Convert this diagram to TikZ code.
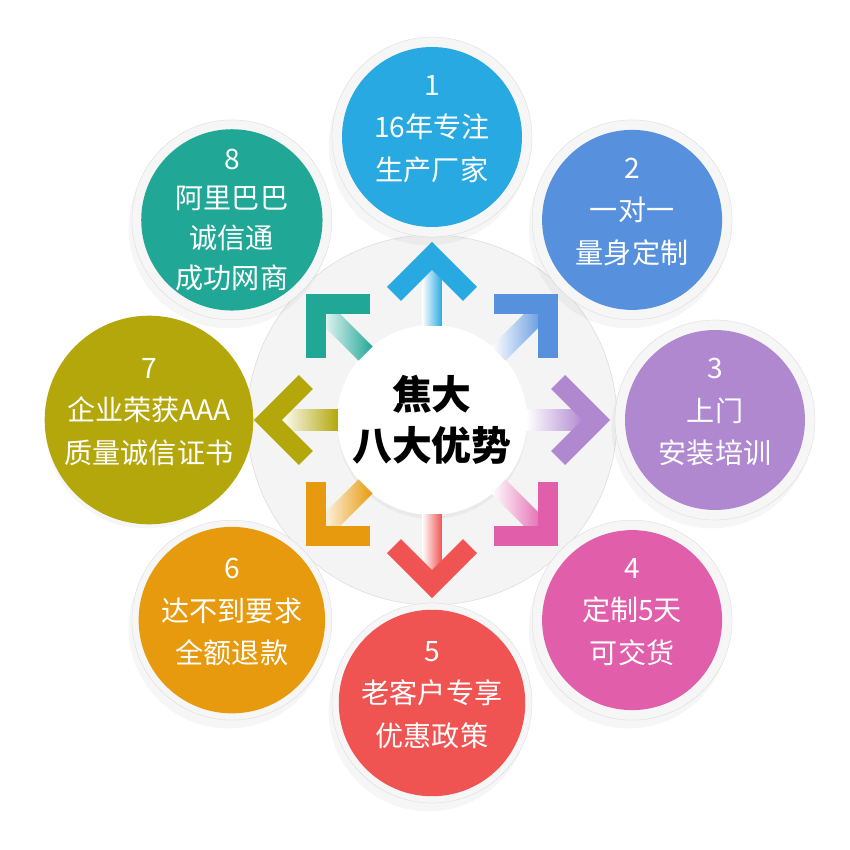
\documentclass[tikz,border=0pt]{standalone}
\usepackage{fontspec}
\newfontfamily\cjk{Noto Sans CJK SC}
\usetikzlibrary{positioning,shadows}
\definecolor{adv1}{HTML}{29A9E1}
\definecolor{adv2}{HTML}{5791DD}
\definecolor{adv3}{HTML}{B088D0}
\definecolor{adv4}{HTML}{E15EAA}
\definecolor{adv5}{HTML}{EF5352}
\definecolor{adv6}{HTML}{E79A0D}
\definecolor{adv7}{HTML}{B3A70B}
\definecolor{adv8}{HTML}{21A796}
\tikzstyle{hubdisc} = [circle, minimum size=111mm, fill=gray!9, draw=gray!30, thin]
\tikzstyle{core} = [circle, minimum size=57mm, inner sep=0pt, fill=white, align=center, drop shadow={opacity=0.08, shadow xshift=0mm, shadow yshift=-1.2mm}, font=\cjk\bfseries\fontsize{34}{43}\selectfont]
\tikzstyle{ring} = [circle, minimum size=60mm, inner sep=0pt, fill=gray!7, draw=gray!35, very thin, drop shadow={opacity=0.07, shadow xshift=-1mm, shadow yshift=-2.5mm}]
\tikzstyle{disc} = [circle, minimum size=54mm, inner sep=0pt, align=center, text=white, font=\cjk\fontsize{24}{36}\selectfont]
\tikzstyle{lifted} = [execute at end node={\rule[-5.5mm]{0pt}{5.5mm}}]
\tikzstyle{shaft} = [rectangle, minimum width=17.4mm, minimum height=6mm, inner sep=0pt, left color=white]
\newcommand{\advarrow}[2]{%
  \node[shaft, rotate=#1, right color=#2] at (#1:123) {};
  \fill[#2, rotate=#1] (178,0) -- (133,45) -- (119,31) -- (150,0) -- (119,-31) -- (133,-45) -- cycle;
}

\begin{document}
\begin{tikzpicture}[x=0.3mm, y=0.3mm]
\useasboundingbox[fill=white] (-432,-430) rectangle (418,420);
\node[hubdisc] (hub) at (0,0) {};
\node[core] (center) at (hub) {焦大\\八大优势};
% arrows out of the centre
\advarrow{90}{adv1}
\advarrow{45}{adv2}
\advarrow{0}{adv3}
\advarrow{-45}{adv4}
\advarrow{-90}{adv5}
\advarrow{-135}{adv6}
\advarrow{180}{adv7}
\advarrow{135}{adv8}
% the eight circles
\node[ring] (r1) at (90:283) {};
\node[disc, lifted, fill=adv1] (c1) at (r1) {1\\16年专注\\生产厂家};
\node[ring] (r2) at (45:283) {};
\node[disc, lifted, fill=adv2] (c2) at (r2) {2\\一对一\\量身定制};
\node[ring] (r3) at (0:283) {};
\node[disc, lifted, fill=adv3] (c3) at (r3) {3\\上门\\安装培训};
\node[ring] (r4) at (-45:283) {};
\node[disc, lifted, fill=adv4] (c4) at (r4) {4\\定制5天\\可交货};
\node[ring] (r5) at (-90:283) {};
\node[disc, lifted, fill=adv5] (c5) at (r5) {5\\老客户专享\\优惠政策};
\node[ring] (r6) at (-135:283) {};
\node[disc, lifted, fill=adv6] (c6) at (r6) {6\\达不到要求\\全额退款};
\node[ring] (r7) at (180:283) {};
\node[disc, lifted, fill=adv7] (c7) at (r7) {7\\企业荣获AAA\\质量诚信证书};
\node[ring] (r8) at (135:283) {};
\node[disc, fill=adv8, font=\cjk\fontsize{24}{34}\selectfont] (c8) at (r8) {8\\阿里巴巴\\诚信通\\成功网商};
\end{tikzpicture}
\end{document}
